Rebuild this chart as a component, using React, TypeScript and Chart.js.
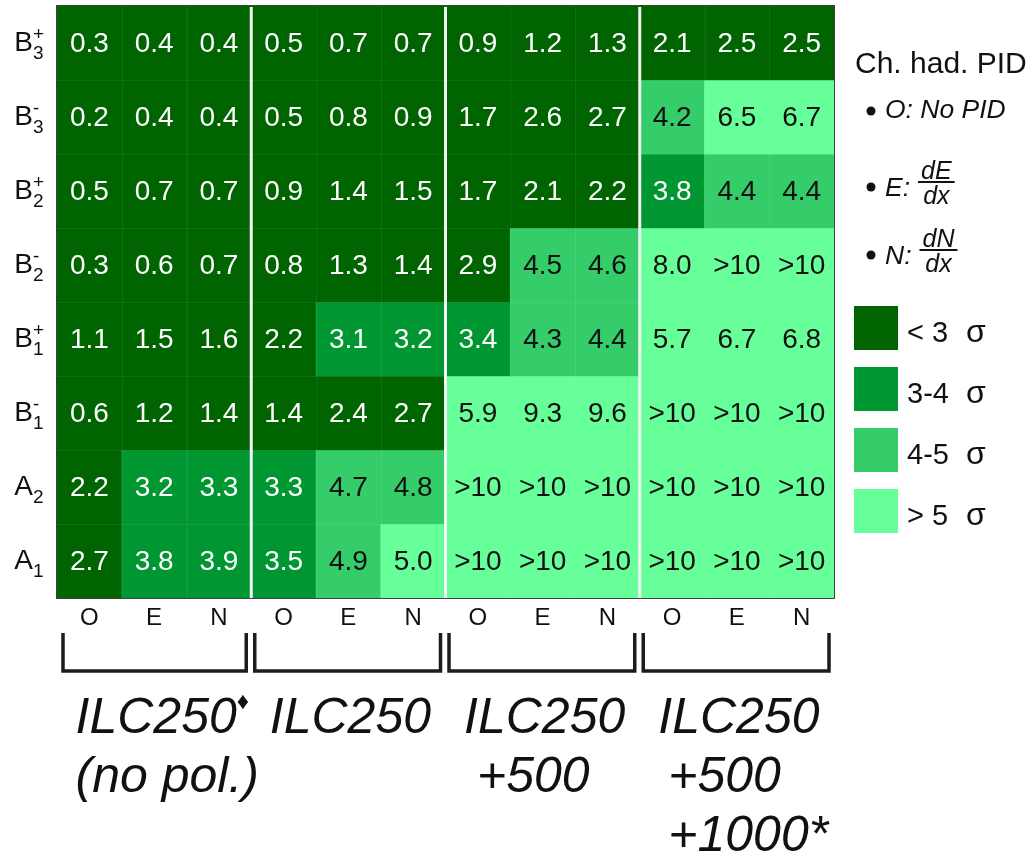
import React, { useEffect, useRef } from "react";
import { Chart, registerables } from "chart.js";

Chart.register(...registerables);

// ---------- data ----------
const columnLabels = ["O", "E", "N", "O", "E", "N", "O", "E", "N", "O", "E", "N"];
const rowBase = ["B", "B", "B", "B", "B", "B", "A", "A"];
const rowSub = ["3", "3", "2", "2", "1", "1", "2", "1"];
const rowSup = ["+", "-", "+", "-", "+", "-", "", ""];
const OVER = Infinity; // shown as ">10"

const rowB3p = [0.3, 0.4, 0.4, 0.5, 0.7, 0.7, 0.9, 1.2, 1.3, 2.1, 2.5, 2.5];
const rowB3m = [0.2, 0.4, 0.4, 0.5, 0.8, 0.9, 1.7, 2.6, 2.7, 4.2, 6.5, 6.7];
const rowB2p = [0.5, 0.7, 0.7, 0.9, 1.4, 1.5, 1.7, 2.1, 2.2, 3.8, 4.4, 4.4];
const rowB2m = [0.3, 0.6, 0.7, 0.8, 1.3, 1.4, 2.9, 4.5, 4.6, 8.0, OVER, OVER];
const rowB1p = [1.1, 1.5, 1.6, 2.2, 3.1, 3.2, 3.4, 4.3, 4.4, 5.7, 6.7, 6.8];
const rowB1m = [0.6, 1.2, 1.4, 1.4, 2.4, 2.7, 5.9, 9.3, 9.6, OVER, OVER, OVER];
const rowA2 = [2.2, 3.2, 3.3, 3.3, 4.7, 4.8, OVER, OVER, OVER, OVER, OVER, OVER];
const rowA1 = [2.7, 3.8, 3.9, 3.5, 4.9, 5.0, OVER, OVER, OVER, OVER, OVER, OVER];
const rowValues = [rowB3p, rowB3m, rowB2p, rowB2m, rowB1p, rowB1m, rowA2, rowA1];

const groupLines = [
  ["ILC250", "(no pol.)"],
  ["ILC250"],
  ["ILC250", "+500"],
  ["ILC250", "+500", "+1000*"],
];
const groupMarks = ["♦", "", "", ""];

const sigmaEdges = [3, 4, 5];
const levelColors = ["#006400", "#009632", "#35cd69", "#66ff99"];
const legendLabels = ["< 3 σ", "3-4 σ", "4-5 σ", "> 5 σ"];

const pidTitle = "Ch. had. PID";
const pidCodes = ["O", "E", "N"];
const pidNumerators = ["", "dE", "dN"];
const pidDenominators = ["", "dx", "dx"];
const pidText = ["No PID", "", ""];

// ---------- helpers ----------
const FONT = "'Liberation Sans', Arial, Helvetica, sans-serif";

function levelOf(v: number): number {
  let l = 0;
  for (const e of sigmaEdges) if (v >= e) l++;
  return l;
}
function labelOf(v: number): string {
  return isFinite(v) ? v.toFixed(1) : ">10";
}

function colEdgeFn(chart: any) {
  const area = chart.chartArea;
  const xs = chart.scales.x;
  const ncol = columnLabels.length;
  return (i: number) =>
    i === 0
      ? area.left
      : i === ncol
      ? area.right
      : (xs.getPixelForValue(i - 1) + xs.getPixelForValue(i)) / 2;
}

const overlayPlugin = {
  id: "heatOverlay",
  afterDatasetsDraw(chart: any) {
    const ctx = chart.ctx as CanvasRenderingContext2D;
    const area = chart.chartArea;
    const ys = chart.scales.y;
    const ncol = columnLabels.length;
    const colEdge = colEdgeFn(chart);

    ctx.save();
    // faint cell grid
    ctx.strokeStyle = "rgba(255,255,255,0.07)";
    ctx.lineWidth = 1;
    for (let i = 1; i < ncol; i++) {
      const x = Math.round(colEdge(i)) + 0.5;
      ctx.beginPath();
      ctx.moveTo(x, area.top);
      ctx.lineTo(x, area.bottom);
      ctx.stroke();
    }
    for (let r = 1; r < rowValues.length; r++) {
      const y = Math.round(ys.getPixelForValue(r)) + 0.5;
      ctx.beginPath();
      ctx.moveTo(area.left, y);
      ctx.lineTo(area.right, y);
      ctx.stroke();
    }

    // cell values
    ctx.font = `28px ${FONT}`;
    ctx.textAlign = "center";
    ctx.textBaseline = "middle";
    chart.data.datasets.forEach((ds: any, di: number) => {
      const meta = chart.getDatasetMeta(di);
      meta.data.forEach((el: any, ci: number) => {
        const v = rowValues[di][ci];
        const c = el.getCenterPoint();
        ctx.fillStyle = v < 4 ? "#ffffff" : "#111111";
        ctx.fillText(labelOf(v), c.x, c.y + 1);
      });
    });

    // white group separators
    ctx.strokeStyle = "#f4f4f4";
    ctx.lineWidth = 3;
    for (let g = 1; g < groupLines.length; g++) {
      const x = colEdge(g * 3);
      ctx.beginPath();
      ctx.moveTo(x, area.top + 1);
      ctx.lineTo(x, area.bottom);
      ctx.stroke();
    }

    // frame
    ctx.strokeStyle = "rgba(30,30,30,0.85)";
    ctx.lineWidth = 1;
    ctx.strokeRect(area.left - 0.5, area.top - 0.5, area.right - area.left + 1, area.bottom - area.top + 1);
    ctx.restore();
  },
  afterDraw(chart: any) {
    const ctx = chart.ctx as CanvasRenderingContext2D;
    const area = chart.chartArea;
    const xs = chart.scales.x;
    const ys = chart.scales.y;
    const colEdge = colEdgeFn(chart);

    ctx.save();
    ctx.fillStyle = "#111";

    // x tick labels
    ctx.font = `24px ${FONT}`;
    ctx.textAlign = "center";
    ctx.textBaseline = "alphabetic";
    columnLabels.forEach((l, i) => {
      ctx.fillText(l, xs.getPixelForValue(i), area.bottom + 27);
    });

    // y tick labels with sub/superscripts
    rowBase.forEach((b, r) => {
      const cy = ys.getPixelForValue(r + 0.5);
      ctx.font = `28px ${FONT}`;
      ctx.textAlign = "right";
      ctx.fillText(b, 33, cy + 7.5);
      ctx.textAlign = "left";
      ctx.font = `19px ${FONT}`;
      ctx.fillText(rowSub[r], 33, cy + 15.5);
      if (rowSup[r]) ctx.fillText(rowSup[r], 33, cy - 3);
    });

    // brackets
    ctx.strokeStyle = "#1c1c1c";
    ctx.lineWidth = 3.5;
    ctx.lineJoin = "miter";
    ctx.lineCap = "butt";
    const bTop = area.bottom + 35;
    const bBot = area.bottom + 73;
    for (let g = 0; g < groupLines.length; g++) {
      const l = colEdge(g * 3) + (g === 0 ? 6 : 3.5);
      const rgt = colEdge(g * 3 + 3) - 5;
      ctx.beginPath();
      ctx.moveTo(l, bTop);
      ctx.lineTo(l, bBot);
      ctx.lineTo(rgt, bBot);
      ctx.lineTo(rgt, bTop);
      ctx.stroke();
    }

    // group labels
    const lineOffsets = [0, 0, 13, 10];
    ctx.font = `italic 50px ${FONT}`;
    ctx.textAlign = "left";
    for (let g = 0; g < groupLines.length; g++) {
      const center = (xs.getPixelForValue(g * 3) + xs.getPixelForValue(g * 3 + 2)) / 2 + 2;
      const w0 = ctx.measureText(groupLines[g][0]).width;
      const left0 = center - w0 / 2;
      groupLines[g].forEach((t, li) => {
        const x = li === 0 ? left0 : left0 + lineOffsets[g];
        ctx.fillText(t, x, area.bottom + 135 + li * 59);
      });
      if (groupMarks[g]) {
        ctx.font = `24px ${FONT}`;
        ctx.fillText(groupMarks[g], left0 + w0 + 0, area.bottom + 111);
        ctx.font = `italic 50px ${FONT}`;
      }
    }

    // PID legend
    ctx.font = `30px ${FONT}`;
    ctx.fillText(pidTitle, 855, 73);
    const lineY = [118, 197, 260];
    const fracBar = [0, 182, 250];
    for (let i = 0; i < pidCodes.length; i++) {
      const by = i === 0 ? lineY[i] - 7 : fracBar[i] + 5;
      ctx.beginPath();
      ctx.arc(871, by, 4.5, 0, Math.PI * 2);
      ctx.fill();
      ctx.font = `italic 26.5px ${FONT}`;
      const head = pidCodes[i] + ":";
      if (i === 0) {
        ctx.fillText(head + " " + pidText[i], 885, lineY[i]);
      } else {
        ctx.fillText(head, 885, by + 9);
        const hw = ctx.measureText(head).width;
        ctx.font = `italic 25px ${FONT}`;
        const nw = Math.max(ctx.measureText(pidNumerators[i]).width, ctx.measureText(pidDenominators[i]).width) + 6;
        const x0 = 885 + hw + 8;
        ctx.fillRect(x0, fracBar[i] - 1, nw, 2);
        ctx.textAlign = "center";
        ctx.fillText(pidNumerators[i], x0 + nw / 2, fracBar[i] - 3);
        ctx.fillText(pidDenominators[i], x0 + nw / 2, fracBar[i] + 22);
        ctx.textAlign = "left";
      }
    }

    // sigma legend
    legendLabels.forEach((t, i) => {
      const top = 306 + i * 61;
      ctx.fillStyle = levelColors[i];
      ctx.fillRect(854, top, 44, 44);
      ctx.fillStyle = "#111";
      const cut = t.lastIndexOf(" ");
      ctx.font = `29px ${FONT}`;
      ctx.fillText(t.slice(0, cut), 907, top + 36);
      ctx.font = `32px ${FONT}`;
      ctx.fillText(t.slice(cut + 1), 966, top + 36);
    });

    ctx.restore();
  },
};

export default function App() {
  const ref = useRef<HTMLCanvasElement | null>(null);

  useEffect(() => {
    if (!ref.current) return;
    const datasets = rowValues.map((vals, r) => ({
      label: rowBase[r] + rowSub[r] + rowSup[r],
      data: vals.map(() => [r, r + 1]),
      backgroundColor: vals.map((v) => levelColors[levelOf(v)]),
      borderWidth: 0,
      barPercentage: 1,
      categoryPercentage: 1,
      grouped: false,
    }));
    const chart = new Chart(ref.current, {
      type: "bar",
      data: { labels: columnLabels, datasets: datasets as any },
      options: {
        responsive: false,
        animation: false,
        devicePixelRatio: 1,
        layout: { padding: { left: 57, right: 196, top: 6, bottom: 255 } },
        plugins: { legend: { display: false }, tooltip: { enabled: false } },
        scales: {
          x: { display: false, offset: true },
          y: { type: "linear", display: false, min: 0, max: 8, reverse: true },
        },
      },
      plugins: [overlayPlugin],
    });
    return () => chart.destroy();
  }, []);

  return (
    <div style={{ position: "fixed", left: 0, top: 0, width: 1030, height: 853, background: "#fff" }}>
      <canvas ref={ref} width={1030} height={853} style={{ display: "block" }} />
    </div>
  );
}
